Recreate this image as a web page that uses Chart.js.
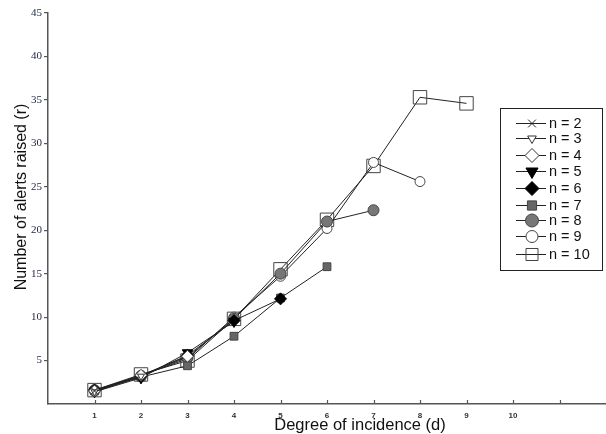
<!DOCTYPE html>
<html>
<head>
<meta charset="utf-8">
<script src="https://cdn.jsdelivr.net/npm/chart.js@4.4.1/dist/chart.umd.min.js"></script>
<style>
	html, body { margin: 0; padding: 0; background: #fff; }
</style>
</head>
<body>
<canvas id="chart" width="606" height="434"></canvas>
<script>
// degree of incidence d, and alerts raised for each n (d runs 1..n-1)
const degrees = [1, 2, 3, 4, 5, 6, 7, 8, 9];
const n2  = [1.5];
const n3  = [1.4, 3.2];
const n4  = [1.5, 3.3, 5.5];
const n5  = [1.4, 3.0, 5.9, 9.5];
const n6  = [1.6, 3.2, 5.6, 9.6, 12.1];
const n7  = [1.5, 3.1, 4.4, 7.8, 12.2, 15.8];
const n8  = [1.6, 3.2, 5.4, 9.8, 15.0, 21.0, 22.3];
const n9  = [1.5, 3.3, 5.2, 10.0, 14.7, 20.2, 27.8, 25.6];
const n10 = [1.6, 3.4, 5.0, 9.8, 15.5, 21.2, 27.4, 35.3, 34.6];
const seriesLabels = ['n = 2', 'n = 3', 'n = 4', 'n = 5', 'n = 6', 'n = 7', 'n = 8', 'n = 9', 'n = 10'];
const seriesValues = [n2, n3, n4, n5, n6, n7, n8, n9, n10];
const xTickLabels = [1, 2, 3, 4, 5, 6, 7, 8, 9, 10];
const yTickLabels = [5, 10, 15, 20, 25, 30, 35, 40, 45];

// marker look per series
const markers = [
	{ pointStyle: 'crossRot', radius: 4.5, rotation: 0,   fill: '#fff', border: '#222' },
	{ pointStyle: 'triangle', radius: 4,   rotation: 180, fill: '#fff', border: '#333' },
	{ pointStyle: 'rectRot',  radius: 6,   rotation: 0,   fill: '#fff', border: '#333' },
	{ pointStyle: 'triangle', radius: 6,   rotation: 180, fill: '#000', border: '#000' },
	{ pointStyle: 'rectRot',  radius: 6,   rotation: 0,   fill: '#000', border: '#000' },
	{ pointStyle: 'rect',     radius: 5.5, rotation: 0,   fill: '#666', border: '#444' },
	{ pointStyle: 'circle',   radius: 5.5, rotation: 0,   fill: '#777', border: '#444' },
	{ pointStyle: 'circle',   radius: 5,   rotation: 0,   fill: '#fff', border: '#444' },
	{ pointStyle: 'rect',     radius: 9.5, rotation: 0,   fill: 'rgba(0,0,0,0)', border: '#444' }
];

const datasets = seriesValues.map(function (vals, i) {
	const m = markers[i];
	return {
		label: seriesLabels[i],
		data: vals.map(function (v, j) { return { x: degrees[j], y: v }; }),
		showLine: true,
		borderColor: '#222',
		borderWidth: 1,
		pointStyle: m.pointStyle,
		pointRadius: m.radius,
		pointRotation: m.rotation,
		pointBackgroundColor: m.fill,
		pointBorderColor: m.border,
		pointBorderWidth: 1
	};
});

// inward x ticks, axis titles, boxed legend with line and marker
const extras = {
	id: 'extras',
	afterDraw: function (chart) {
		const ctx = chart.ctx;
		const xs = chart.scales.x;
		const bottom = chart.chartArea.bottom;
		ctx.save();
		ctx.strokeStyle = '#555';
		ctx.lineWidth = 1.2;
		for (let v = 1; v <= 11; v++) {
			const px = Math.round(xs.getPixelForValue(v)) + 0.5;
			ctx.beginPath();
			ctx.moveTo(px, bottom);
			ctx.lineTo(px, bottom - 4);
			ctx.stroke();
		}

		// axis titles
		ctx.fillStyle = '#111';
		ctx.textAlign = 'center';
		ctx.textBaseline = 'alphabetic';
		ctx.font = '16.5px "Liberation Sans", Arial, sans-serif';
		ctx.fillText('Degree of incidence (d)', 360, 430);
		ctx.save();
		ctx.translate(26, 197);
		ctx.rotate(-Math.PI / 2);
		ctx.font = '16px "Liberation Sans", Arial, sans-serif';
		ctx.fillText('Number of alerts raised (r)', 0, 0);
		ctx.restore();

		// legend box
		ctx.strokeStyle = '#222';
		ctx.lineWidth = 1;
		ctx.strokeRect(500.5, 108.5, 102, 162);
		const rows = [123, 138, 155, 171, 188, 205, 220, 236, 254];
		ctx.font = '14.5px "Liberation Sans", Arial, sans-serif';
		ctx.textAlign = 'left';
		ctx.textBaseline = 'middle';
		rows.forEach(function (y, i) {
			const m = markers[i];
			ctx.strokeStyle = '#222';
			ctx.beginPath();
			ctx.moveTo(516, y + 0.5);
			ctx.lineTo(546, y + 0.5);
			ctx.stroke();
			ctx.fillStyle = m.fill;
			ctx.strokeStyle = m.border;
			const r = m.pointStyle === 'rect' && i === 8 ? 8.5 : m.radius + 1;
			Chart.helpers.drawPoint(ctx, { pointStyle: m.pointStyle, radius: r, rotation: m.rotation, borderWidth: 1 }, 532, y + 0.5);
			ctx.fillStyle = '#111';
			ctx.fillText(seriesLabels[i], 549, y + 1);
		});
		ctx.restore();
	}
};

new Chart(document.getElementById('chart'), {
	type: 'scatter',
	data: { datasets: datasets },
	options: {
		responsive: false,
		animation: false,
		layout: { autoPadding: false, padding: { top: 13, right: 0, left: 0, bottom: 0 } },
		plugins: { legend: { display: false }, tooltip: { enabled: false } },
		scales: {
			x: {
				type: 'linear',
				min: 0,
				max: 12,
				afterFit: function (s) { s.height = 30; },
				afterBuildTicks: function (s) {
					s.ticks = xTickLabels.map(function (v) { return { value: v }; });
				},
				ticks: {
					autoSkip: false,
					maxRotation: 0,
					padding: 7,
					color: '#333',
					font: { family: '"Liberation Sans", Arial, sans-serif', size: 8, weight: 'bold' }
				},
				grid: { display: true, drawOnChartArea: false, drawTicks: false },
				border: { color: '#555', width: 1.5 }
			},
			y: {
				min: 0,
				max: 45,
				afterFit: function (s) { s.width = 48; },
				afterBuildTicks: function (s) {
					s.ticks = yTickLabels.map(function (v) { return { value: v }; });
				},
				ticks: {
					padding: 2,
					color: '#1c2541',
					font: { family: '"Liberation Serif", "Times New Roman", serif', size: 11 }
				},
				grid: { drawOnChartArea: false, tickLength: 4, color: '#555', lineWidth: 1.2 },
				border: { color: '#555', width: 1.5 }
			}
		}
	},
	plugins: [extras]
});
</script>
</body>
</html>
